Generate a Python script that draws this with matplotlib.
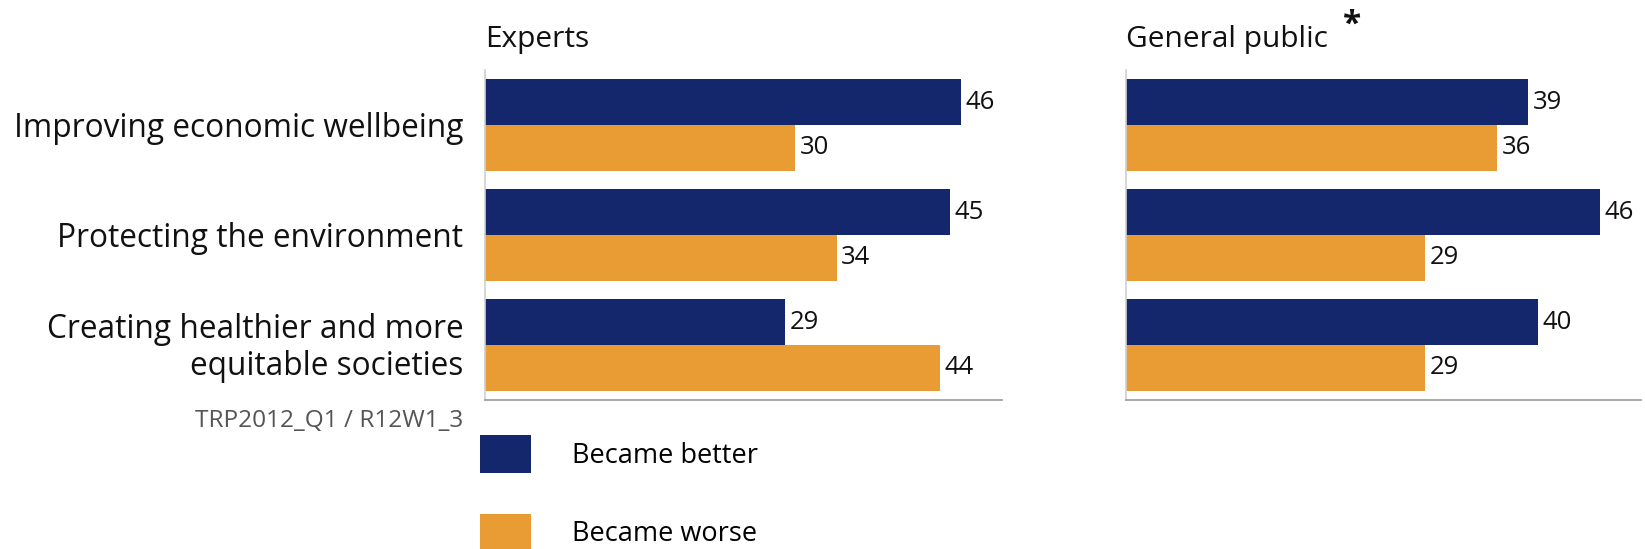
import matplotlib
matplotlib.use('Agg')
import matplotlib.pyplot as plt
import numpy as np
from matplotlib.patches import Patch

plt.rcParams['font.family'] = ['Open Sans', 'DejaVu Sans']

categories = ["Improving economic wellbeing",
              "Protecting the environment",
              "Creating healthier and more\nequitable societies"]
experts_better = [46, 45, 29]
experts_worse = [30, 34, 44]
public_better = [39, 46, 40]
public_worse = [36, 29, 29]
panel_titles = ["Experts", "General public"]
series_labels = ["Became better", "Became worse"]
source_note = "TRP2012_Q1 / R12W1_3"

BLUE = "#14276D"
ORANGE = "#E99B34"

W, H = 1645, 549
fig = plt.figure(figsize=(W / 100, H / 100), dpi=100)

# axes boxes in pixels: left, right
boxes = [(485, 1002), (1126, 1641)]
top_px, bot_px = 70, 400
data = [(experts_better, experts_worse), (public_better, public_worse)]

y = np.arange(len(categories))
bar_h = 0.414

for i, ((x0, x1), (better, worse)) in enumerate(zip(boxes, data)):
    ax = fig.add_axes([x0 / W, 1 - bot_px / H, (x1 - x0) / W, (bot_px - top_px) / H])
    b1 = ax.barh(y - bar_h / 2, better, height=bar_h, color=BLUE, edgecolor='none')
    b2 = ax.barh(y + bar_h / 2, worse, height=bar_h, color=ORANGE, edgecolor='none')
    for bars in (b1, b2):
        for rect in bars:
            ax.text(rect.get_width() + 0.45, rect.get_y() + rect.get_height() / 2,
                    f"{int(rect.get_width())}", va='center', ha='left',
                    fontsize=18.5, color='#111111')
    ax.set_xlim(0, 50)
    ax.set_ylim(2.5, -0.5)
    ax.set_xticks([])
    ax.set_yticks([])
    for s in ('top', 'right'):
        ax.spines[s].set_visible(False)
    ax.spines['left'].set_color('#d0d0d0')
    ax.spines['left'].set_linewidth(1.2)
    ax.spines['bottom'].set_color('#9a9a9a')
    ax.spines['bottom'].set_linewidth(1.2)
    fig.text(x0 / W, 1 - 47 / H, panel_titles[i], fontsize=21.5, ha='left',
             va='baseline', color='#111111')
    if i == 0:
        for yy, cat in zip(y, categories):
            ax.text(-2.1, yy + 0.03, cat, ha='right', va='center', fontsize=22.8,
                    color='#111111', linespacing=1.15)

# asterisk after "General public"
fig.text(1343 / W, 1 - 34 / H, "*", fontsize=24, fontweight='bold', ha='left',
         va='baseline', color='#111111')

# source note
fig.text(463 / W, 1 - 427 / H, source_note, fontsize=17.6, ha='right',
         va='baseline', color='#555555')

handles = [Patch(facecolor=BLUE, edgecolor='none'),
           Patch(facecolor=ORANGE, edgecolor='none')]
fig.legend(handles, series_labels, loc='upper left',
           bbox_to_anchor=(480 / W, 1 - 435 / H), frameon=False, fontsize=19.5,
           handlelength=1.88, handleheight=1.78, labelspacing=1.5,
           handletextpad=1.5, borderpad=0, borderaxespad=0)

fig.savefig("out.png", dpi=100)
